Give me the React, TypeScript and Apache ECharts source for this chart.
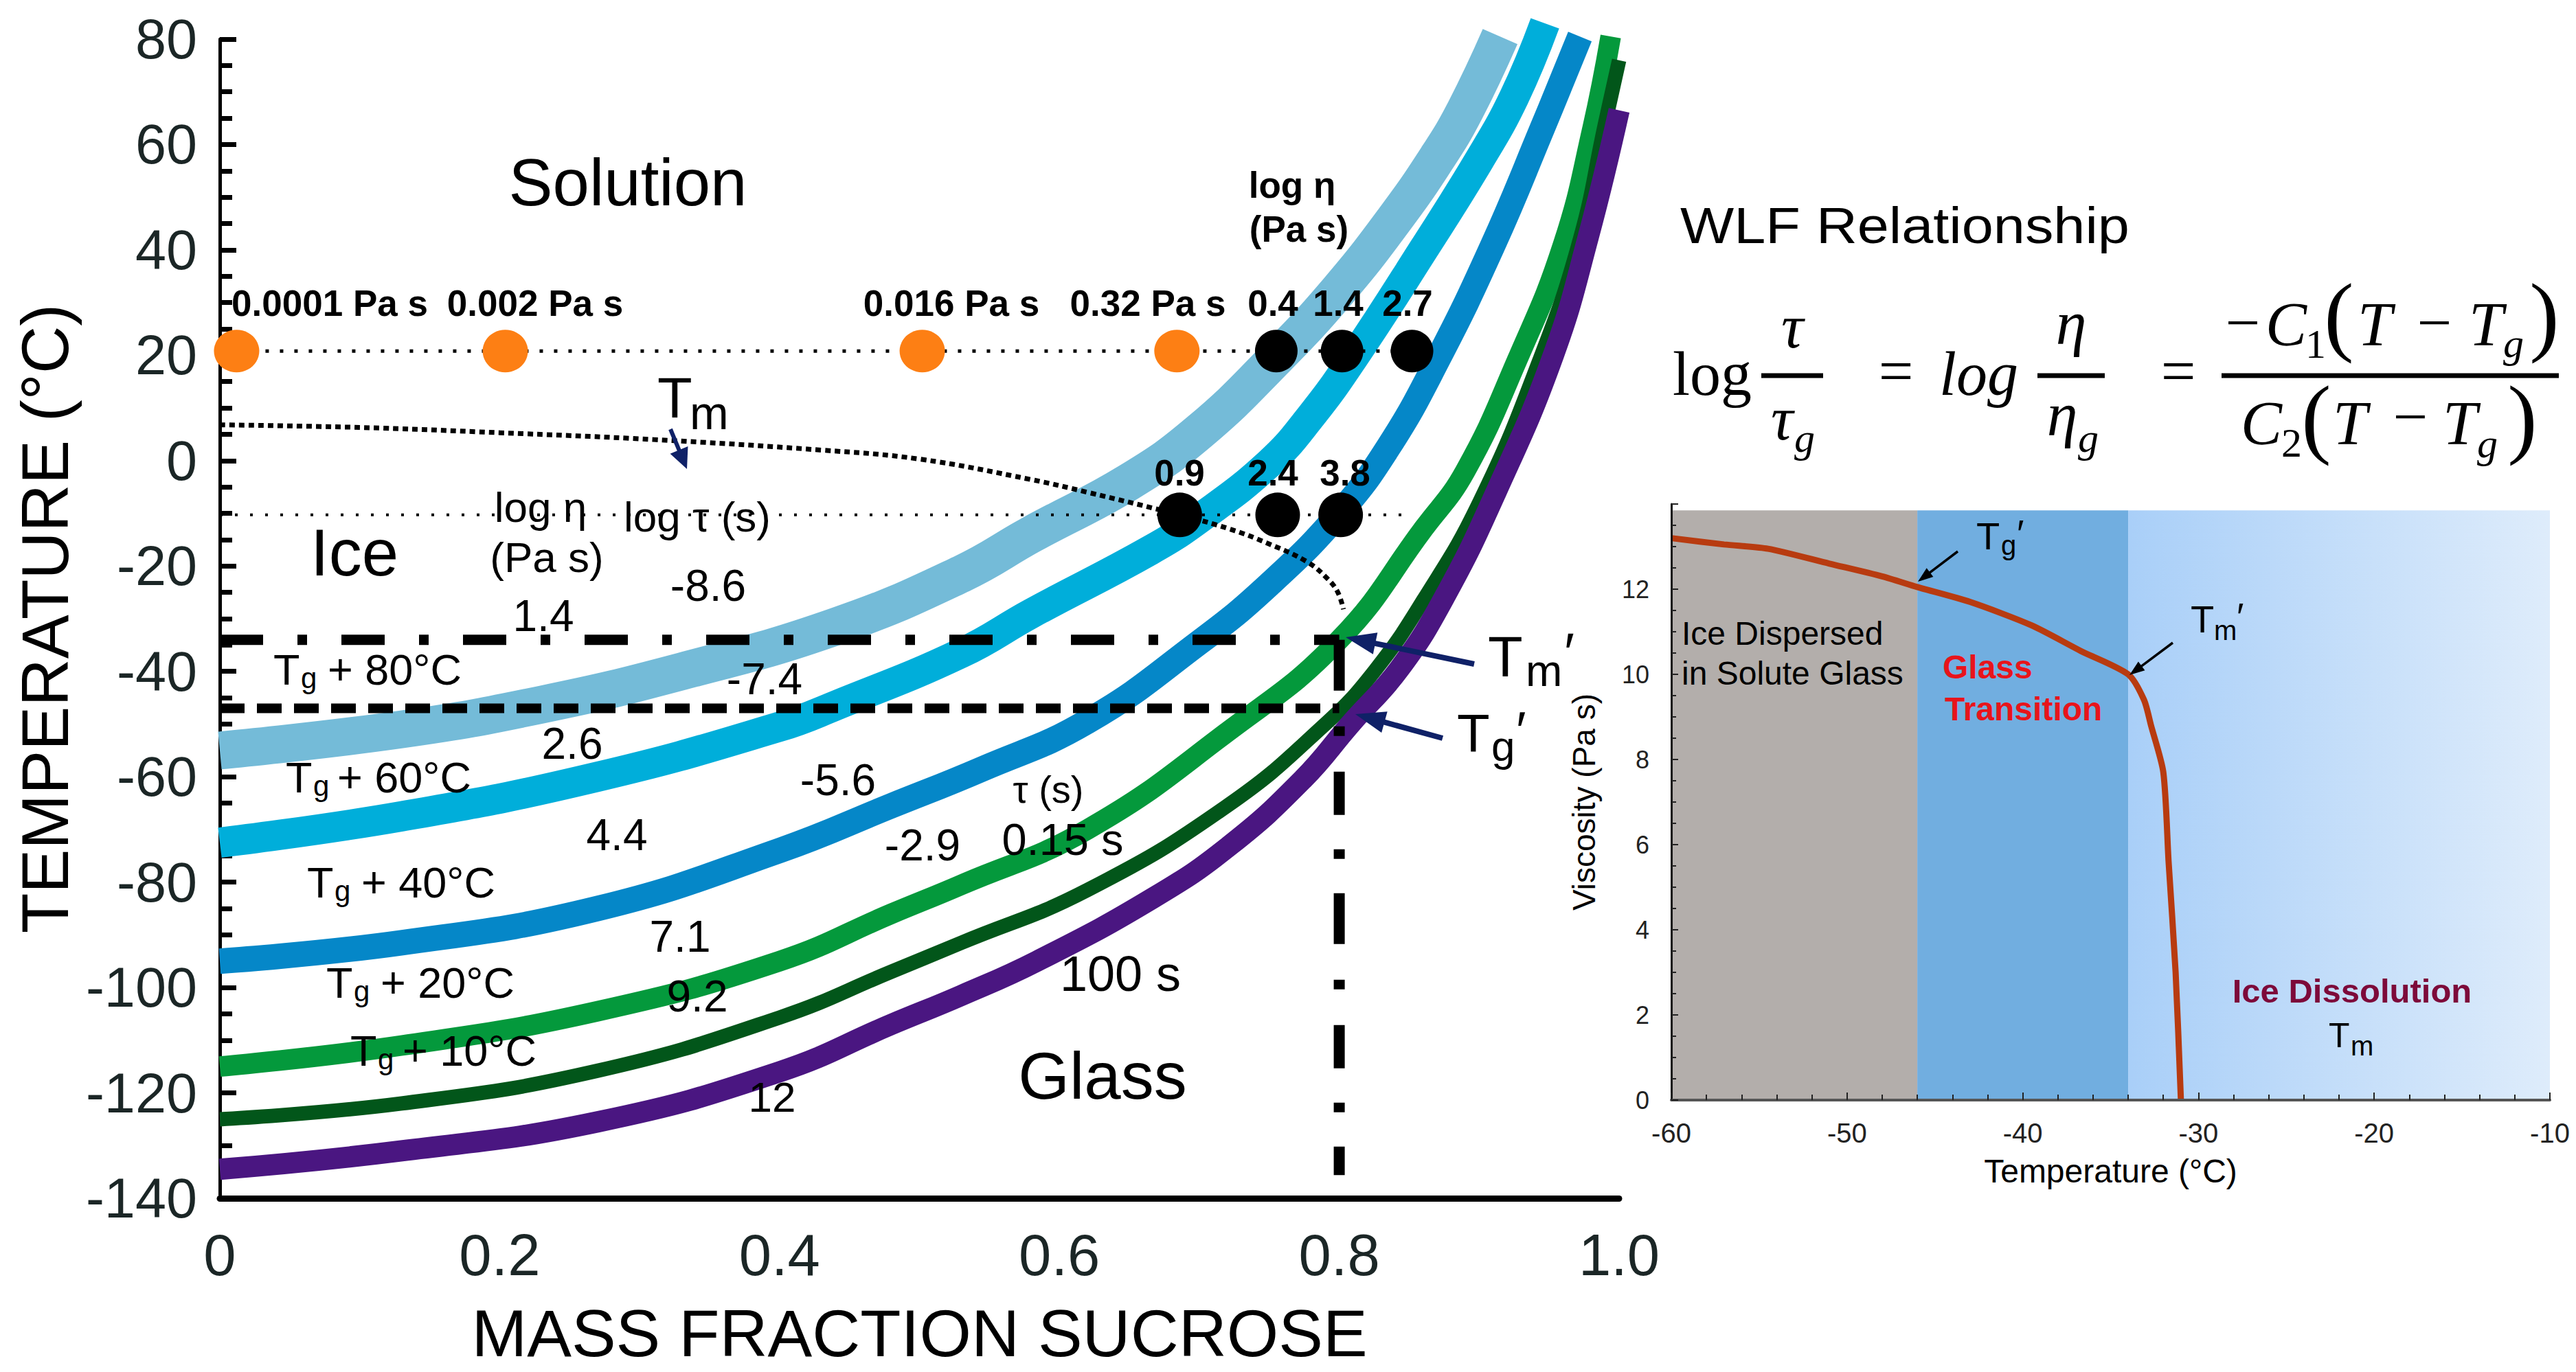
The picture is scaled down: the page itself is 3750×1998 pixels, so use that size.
import React, { useEffect, useRef } from 'react';
import * as echarts from 'echarts';

// ---------------- main chart data ----------------
const massFractionLabels = ['0', '0.2', '0.4', '0.6', '0.8', '1.0'];

// [mass fraction sucrose, temperature °C]
const curveTg80 = [[0, -55], [0.13, -51], [0.23, -46.3], [0.33, -40], [0.44, -31.5], [0.53, -21.5], [0.58, -14], [0.65, -4], [0.7, 5.5], [0.755, 19.5], [0.8, 32.5], [0.84, 46], [0.87, 57.5], [0.89, 66.5], [0.915, 80.5]];
const curveTg60 = [[0, -72.5], [0.13, -67.5], [0.27, -60], [0.4, -50.5], [0.44, -46.5], [0.53, -36.5], [0.58, -29], [0.665, -17], [0.7, -11], [0.75, -0.5], [0.78, 8.5], [0.81, 19.5], [0.86, 40], [0.9, 57], [0.925, 69], [0.947, 83]];
const curveTg40 = [[0, -95], [0.13, -91.5], [0.27, -85], [0.4, -74], [0.48, -65.5], [0.545, -58.5], [0.62, -49.5], [0.7, -34.5], [0.75, -23.5], [0.8, -10], [0.835, 2.5], [0.87, 19], [0.91, 41], [0.945, 63], [0.972, 80.5]];
const curveTg20 = [[0, -115], [0.13, -111], [0.27, -104.5], [0.4, -95], [0.48, -86], [0.53, -80.5], [0.62, -70], [0.72, -51.5], [0.8, -34], [0.86, -13], [0.89, -2], [0.927, 19], [0.96, 41], [0.981, 63], [0.994, 80.5]];
const curveTg10 = [[0, -125], [0.13, -122], [0.27, -115.8], [0.4, -105.7], [0.48, -97], [0.53, -91.5], [0.62, -81.5], [0.72, -65.5], [0.79, -50], [0.825, -40], [0.86, -26.5], [0.9, -8], [0.943, 19], [0.972, 42], [0.99, 64], [1.0, 76]];
const curveTg = [[0, -134.5], [0.13, -131], [0.27, -125.5], [0.4, -116], [0.48, -107], [0.53, -101.5], [0.584, -95], [0.667, -83], [0.722, -73], [0.774, -60.5], [0.808, -50], [0.843, -39.5], [0.875, -26], [0.912, -6], [0.953, 20], [0.978, 42.5], [1.0, 66.5]];
const curveTm = [[0, 6.8], [0.1, 6.3], [0.2, 5.3], [0.31, 4], [0.43, 2], [0.5, 0.3], [0.58, -3.6], [0.62, -6], [0.686, -10.3], [0.722, -13], [0.748, -15.6], [0.777, -19.2], [0.792, -22.5], [0.799, -25], [0.803, -28.2]];

const rowUpperTemp = 20.8;
const rowLowerTemp = -10.3;
const orangeDotX = [0.012, 0.204, 0.502, 0.684];
const blackUpperDotX = [0.755, 0.802, 0.852];
const blackLowerDotX = [0.686, 0.756, 0.801];
const lowerRowStartX = 0;
const lowerRowEndX = 0.845;

const tmPrimeTemp = -34;
const tgPrimeTemp = -47;
const cgPrime = 0.8;
const dropLineBottom = -135.6;

// ---------------- inset data ----------------
const insetTemp = [-60, -57, -54.5, -51, -48, -46, -43, -39.5, -36.7, -34, -33.1, -32.7, -32, -31.7, -31.3, -31.0];
const insetVisc = [13.2, 13.05, 12.95, 12.6, 12.3, 12.05, 11.7, 11.15, 10.55, 10.0, 9.4, 8.8, 7.7, 5.6, 3.0, 0];
const regionEdges = [-60, -46, -34, -10];
const insetTop = 13.85;

const SANS = "'Liberation Sans', Arial, Helvetica, sans-serif";
const SERIF = "'Liberation Serif', 'Times New Roman', Times, serif";
const NAVY = '#0F2167';

function txt(text: string, x: number, y: number, size: number, o: any = {}) {
  return {
    type: 'text', x, y, silent: true, z: 100,
    scaleX: o.scaleX || 1,
    style: {
      text, fill: o.color || '#000', fontSize: size,
      fontFamily: o.family || SANS, fontWeight: o.weight || 'normal',
      fontStyle: o.italic ? 'italic' : 'normal',
      align: o.align || 'center', verticalAlign: 'middle',
    },
  };
}

function arrow(x1: number, y1: number, x2: number, y2: number, color: string, w: number, hl: number, hw: number) {
  const dx = x2 - x1, dy = y2 - y1, L = Math.hypot(dx, dy);
  const ux = dx / L, uy = dy / L;
  const bx = x2 - ux * hl, by = y2 - uy * hl;
  const px = -uy, py = ux;
  return [
    { type: 'line', silent: true, z: 100, shape: { x1, y1, x2: bx + ux * 2, y2: by + uy * 2 }, style: { stroke: color, lineWidth: w } },
    { type: 'polygon', silent: true, z: 100, shape: { points: [[x2, y2], [bx + px * hw / 2, by + py * hw / 2], [bx - px * hw / 2, by - py * hw / 2]] }, style: { fill: color } },
  ];
}

function hline(x1: number, x2: number, y: number, w: number) {
  return { type: 'line', silent: true, z: 100, shape: { x1, y1: y, x2, y2: y }, style: { stroke: '#000', lineWidth: w } };
}

function band(data: number[][], color: string, width: number) {
  return {
    type: 'line', xAxisIndex: 0, yAxisIndex: 0, data, showSymbol: false, symbol: 'none',
    smooth: 0.45, clip: false, silent: true, z: 2,
    lineStyle: { color, width, cap: 'butt', join: 'round' },
  };
}

function buildOption() {
  const tgLabel = (x: number, y: number, rest: string, restX: number) => [
    txt('T', x, y, 63, { align: 'left' }),
    txt('g', x + 40, y + 12, 42, { align: 'left' }),
    txt(rest, restX, y, 63, { align: 'left' }),
  ];

  const lightGrad = new echarts.graphic.LinearGradient(0, 0, 1, 0, [
    { offset: 0, color: '#A9CFF8' },
    { offset: 1, color: '#DEECFB' },
  ]);

  const graphic: any[] = [
    // region labels
    txt('Solution', 914, 265, 96),
    txt('Ice', 516, 804, 96),
    txt('Glass', 1605, 1566, 96),
    // viscosity row labels (bold)
    txt('0.0001 Pa s', 480, 441, 53, { weight: 'bold' }),
    txt('0.002 Pa s', 779, 441, 53, { weight: 'bold' }),
    txt('0.016 Pa s', 1385, 441, 53, { weight: 'bold' }),
    txt('0.32 Pa s', 1671, 441, 53, { weight: 'bold' }),
    txt('0.4', 1853, 441, 53, { weight: 'bold' }),
    txt('1.4', 1948, 441, 53, { weight: 'bold' }),
    txt('2.7', 2049, 441, 53, { weight: 'bold' }),
    txt('log η', 1881, 269, 53, { weight: 'bold' }),
    txt('(Pa s)', 1891, 333, 53, { weight: 'bold' }),
    txt('0.9', 1717, 688, 53, { weight: 'bold' }),
    txt('2.4', 1853, 688, 53, { weight: 'bold' }),
    txt('3.8', 1958, 688, 53, { weight: 'bold' }),
    // column headers
    txt('log η', 787, 738, 62),
    txt('(Pa s)', 796, 811, 62),
    txt('log τ (s)', 1015, 752, 62),
    // values along isotherms
    txt('-8.6', 1031, 853, 64),
    txt('1.4', 791, 897, 64),
    txt('-7.4', 1113, 989, 64),
    txt('2.6', 833, 1083, 64),
    txt('-5.6', 1220, 1136, 64),
    txt('4.4', 898, 1216, 64),
    txt('-2.9', 1343, 1231, 64),
    txt('7.1', 990, 1364, 64),
    txt('9.2', 1015, 1451, 64),
    txt('12', 1124, 1597, 62),
    txt('τ (s)', 1526, 1149, 56),
    txt('0.15 s', 1547, 1222, 65),
    txt('100 s', 1631, 1418, 72),
    ...tgLabel(398, 975, '+ 80°C', 477),
    ...tgLabel(416, 1132, '+ 60°C', 491),
    ...tgLabel(447, 1285, '+ 40°C', 526),
    ...tgLabel(475, 1431, '+ 20°C', 554),
    ...tgLabel(510, 1530, '+ 10°C', 586),
    // Tm label + arrow
    txt('T', 957, 579, 83, { align: 'left' }),
    txt('m', 1004, 601, 68, { align: 'left' }),
    ...arrow(976, 625, 1000, 683, NAVY, 6, 30, 28),
    // Tm' and Tg' labels
    txt('T', 2166, 956, 83, { align: 'left' }),
    txt('m', 2221, 977, 64, { align: 'left' }),
    txt('′', 2277, 950, 80, { align: 'left' }),
    ...arrow(2146, 967, 1959, 928, NAVY, 8, 44, 32),
    txt('T', 2121, 1068, 78, { align: 'left' }),
    txt('g', 2171, 1086, 62, { align: 'left' }),
    txt('′', 2207, 1064, 78, { align: 'left' }),
    ...arrow(2100, 1075, 1973, 1040, NAVY, 8, 44, 32),

    // WLF relationship
    txt('WLF Relationship', 2446, 329, 74, { align: 'left', scaleX: 1.12 }),
    txt('log', 2435, 544, 90, { align: 'left', family: SERIF }),
    hline(2564, 2654, 547, 7),
    txt('τ', 2609, 475, 90, { family: SERIF, italic: true }),
    txt('τ', 2594, 609, 90, { family: SERIF, italic: true }),
    txt('g', 2612, 638, 60, { align: 'left', family: SERIF, italic: true }),
    txt('=', 2760, 540, 90, { family: SERIF }),
    txt('log', 2823, 544, 90, { align: 'left', family: SERIF, italic: true }),
    hline(2966, 3064, 547, 7),
    txt('η', 3015, 470, 90, { family: SERIF, italic: true }),
    txt('η', 3002, 603, 90, { family: SERIF, italic: true }),
    txt('g', 3025, 638, 60, { align: 'left', family: SERIF, italic: true }),
    txt('=', 3171, 540, 90, { family: SERIF }),
    hline(3234, 3725, 547, 7),
    txt('−', 3265, 469, 90, { family: SERIF }),
    txt('C', 3298, 472, 90, { align: 'left', family: SERIF, italic: true }),
    txt('1', 3356, 501, 60, { align: 'left', family: SERIF }),
    txt('(', 3405, 458, 130, { family: SERIF }),
    txt('T', 3432, 472, 90, { align: 'left', family: SERIF, italic: true }),
    txt('−', 3544, 469, 90, { family: SERIF }),
    txt('T', 3594, 472, 90, { align: 'left', family: SERIF, italic: true }),
    txt('g', 3644, 500, 60, { align: 'left', family: SERIF, italic: true }),
    txt(')', 3704, 458, 130, { family: SERIF }),
    txt('C', 3262, 616, 90, { align: 'left', family: SERIF, italic: true }),
    txt('2', 3321, 645, 60, { align: 'left', family: SERIF }),
    txt('(', 3372, 607, 130, { family: SERIF }),
    txt('T', 3396, 616, 90, { align: 'left', family: SERIF, italic: true }),
    txt('−', 3509, 606, 90, { family: SERIF }),
    txt('T', 3556, 616, 90, { align: 'left', family: SERIF, italic: true }),
    txt('g', 3606, 646, 60, { align: 'left', family: SERIF, italic: true }),
    txt(')', 3672, 607, 130, { family: SERIF }),

    // inset annotations
    txt('Ice Dispersed', 2448, 922, 48, { align: 'left' }),
    txt('in Solute Glass', 2448, 980, 48, { align: 'left' }),
    txt('Glass', 2828, 971, 48, { align: 'left', weight: 'bold', color: '#E8141B' }),
    txt('Transition', 2831, 1032, 48, { align: 'left', weight: 'bold', color: '#E8141B' }),
    txt('Ice Dissolution', 3424, 1443, 49, { weight: 'bold', color: '#7D0A3A' }),
    txt('T', 3390, 1508, 50, { align: 'left' }),
    txt('m', 3422, 1523, 40, { align: 'left' }),
    txt('T', 2877, 780, 56, { align: 'left' }),
    txt('g', 2913, 794, 40, { align: 'left' }),
    txt('′', 2936, 776, 56, { align: 'left' }),
    ...arrow(2850, 803, 2792, 847, '#000', 3.5, 22, 16),
    txt('T', 3189, 901, 56, { align: 'left' }),
    txt('m', 3223, 918, 40, { align: 'left' }),
    txt('′', 3256, 897, 56, { align: 'left' }),
    ...arrow(3163, 936, 3100, 983, '#000', 3.5, 22, 16),
  ];

  const upperRow = [[orangeDotX[0], rowUpperTemp], [blackUpperDotX[blackUpperDotX.length - 1], rowUpperTemp]];
  const lowerRow = [[lowerRowStartX, rowLowerTemp], [lowerRowEndX, rowLowerTemp]];

  const series: any[] = [
    band(curveTg80, '#74BBD8', 55),
    band(curveTg60, '#00AEDA', 44),
    band(curveTg40, '#0587C8', 37),
    band(curveTg20, '#04993C', 30),
    band(curveTg10, '#02561A', 21),
    band(curveTg, '#4A1681', 31),
    {
      type: 'line', xAxisIndex: 0, yAxisIndex: 0, data: curveTm, showSymbol: false, symbol: 'none',
      smooth: 0.4, silent: true, z: 4, lineStyle: { color: '#000', width: 7, type: [8, 6] },
    },
    {
      type: 'line', xAxisIndex: 0, yAxisIndex: 0, data: upperRow, showSymbol: false, symbol: 'none',
      silent: true, z: 4, lineStyle: { color: '#000', width: 5, type: [5, 16] },
    },
    {
      type: 'line', xAxisIndex: 0, yAxisIndex: 0, data: lowerRow, showSymbol: false, symbol: 'none',
      silent: true, z: 4, lineStyle: { color: '#000', width: 4, type: [4, 18] },
    },
    {
      type: 'line', xAxisIndex: 0, yAxisIndex: 0, data: [[0, tmPrimeTemp], [cgPrime, tmPrimeTemp]], showSymbol: false, symbol: 'none',
      silent: true, z: 5, lineStyle: { color: '#000', width: 15, type: [63, 50, 14, 50] },
    },
    {
      type: 'line', xAxisIndex: 0, yAxisIndex: 0, data: [[cgPrime, tmPrimeTemp], [cgPrime, dropLineBottom]], showSymbol: false, symbol: 'none',
      silent: true, z: 5, lineStyle: { color: '#000', width: 16, type: [74, 52, 14, 52, 63, 50, 14, 50] },
    },
    {
      type: 'line', xAxisIndex: 0, yAxisIndex: 0, data: [[0, tgPrimeTemp], [cgPrime, tgPrimeTemp]], showSymbol: false, symbol: 'none',
      silent: true, z: 5, lineStyle: { color: '#000', width: 14, type: [36, 18] },
    },
    {
      type: 'scatter', xAxisIndex: 0, yAxisIndex: 0, silent: true, z: 6,
      data: orangeDotX.map((x) => [x, rowUpperTemp]), symbolSize: [66, 62],
      itemStyle: { color: '#FD7F14', opacity: 1 },
    },
    {
      type: 'scatter', xAxisIndex: 0, yAxisIndex: 0, silent: true, z: 6,
      data: blackUpperDotX.map((x) => [x, rowUpperTemp]), symbolSize: [62, 62],
      itemStyle: { color: '#000', opacity: 1 },
    },
    {
      type: 'scatter', xAxisIndex: 0, yAxisIndex: 0, silent: true, z: 6,
      data: blackLowerDotX.map((x) => [x, rowLowerTemp]), symbolSize: [65, 65],
      itemStyle: { color: '#000', opacity: 1 },
    },
    // inset
    {
      type: 'line', xAxisIndex: 1, yAxisIndex: 1, silent: true, z: 3,
      data: insetTemp.map((t, i) => [t, insetVisc[i]]), showSymbol: false, symbol: 'none', smooth: 0.25,
      lineStyle: { color: '#B83B10', width: 9 },
      markArea: {
        silent: true, label: { show: false },
        data: [
          [{ xAxis: regionEdges[0], yAxis: 0, itemStyle: { color: '#B3AEAB' } }, { xAxis: regionEdges[1], yAxis: insetTop }],
          [{ xAxis: regionEdges[1], yAxis: 0, itemStyle: { color: '#71AEE0' } }, { xAxis: regionEdges[2], yAxis: insetTop }],
          [{ xAxis: regionEdges[2], yAxis: 0, itemStyle: { color: lightGrad } }, { xAxis: regionEdges[3], yAxis: insetTop }],
        ],
      },
    },
  ];

  return {
    animation: false,
    backgroundColor: '#ffffff',
    textStyle: { fontFamily: SANS },
    grid: [
      { left: 320, top: 57, width: 2037, height: 1688, containLabel: false },
      { left: 2433, top: 734, width: 1279, height: 868, containLabel: false },
    ],
    xAxis: [
      {
        type: 'value', gridIndex: 0, min: 0, max: 1, interval: 0.2,
        axisLine: { show: true, onZero: false, lineStyle: { color: '#000', width: 9 } },
        axisTick: { show: false }, splitLine: { show: false },
        axisLabel: {
          margin: 40, fontSize: 85, color: '#1b2626', fontFamily: SANS,
          formatter: (v: number) => massFractionLabels[Math.round(v / 0.2)] ?? '',
        },
        name: 'MASS FRACTION SUCROSE', nameLocation: 'middle', nameGap: 148,
        nameTextStyle: { fontSize: 97, color: '#000', fontFamily: SANS },
      },
      {
        type: 'value', gridIndex: 1, min: -60, max: -10, interval: 10, z: 5,
        axisLine: { show: true, onZero: false, lineStyle: { color: '#555', width: 4 } },
        axisTick: { show: true, inside: true, length: 11, lineStyle: { color: '#222', width: 2 } },
        minorTick: { show: true, splitNumber: 5, length: 8, lineStyle: { color: '#222', width: 2 } },
        splitLine: { show: false },
        axisLabel: { margin: 28, fontSize: 40, color: '#222', fontFamily: SANS },
        name: 'Temperature (°C)', nameLocation: 'middle', nameGap: 79,
        nameTextStyle: { fontSize: 48, color: '#000', fontFamily: SANS },
      },
    ],
    yAxis: [
      {
        type: 'value', gridIndex: 0, min: -140, max: 80, interval: 20,
        axisLine: { show: true, onZero: false, lineStyle: { color: '#000', width: 5 } },
        axisTick: { show: true, inside: true, length: 24, lineStyle: { color: '#000', width: 7 } },
        minorTick: { show: true, splitNumber: 4, length: 18, lineStyle: { color: '#000', width: 7 } },
        splitLine: { show: false },
        axisLabel: { margin: 33, fontSize: 81, color: '#1b2626', fontFamily: SANS },
        name: 'TEMPERATURE (°C)', nameLocation: 'middle', nameGap: 203,
        nameTextStyle: { fontSize: 96, color: '#000', fontFamily: SANS },
      },
      {
        type: 'value', gridIndex: 1, min: 0, max: 14, interval: 2, z: 5,
        axisLine: { show: true, onZero: false, lineStyle: { color: '#111', width: 3 } },
        axisTick: { show: true, inside: true, length: 10, lineStyle: { color: '#222', width: 2 } },
        minorTick: { show: true, splitNumber: 4, length: 7, lineStyle: { color: '#222', width: 2 } },
        splitLine: { show: false },
        axisLabel: { margin: 32, fontSize: 36, color: '#222', fontFamily: SANS, showMaxLabel: false },
        name: 'Viscosity (Pa s)', nameLocation: 'middle', nameGap: 104,
        nameTextStyle: { fontSize: 46, color: '#000', fontFamily: SANS },
      },
    ],
    series,
    graphic,
  };
}

export default function App() {
  const ref = useRef<HTMLDivElement>(null);
  useEffect(() => {
    if (!ref.current) return;
    const chart = echarts.init(ref.current, null, { renderer: 'svg' });
    chart.setOption(buildOption() as any);
    return () => chart.dispose();
  }, []);
  return <div ref={ref} style={{ position: 'absolute', left: 0, top: 0, width: 3750, height: 1998 }} />;
}
